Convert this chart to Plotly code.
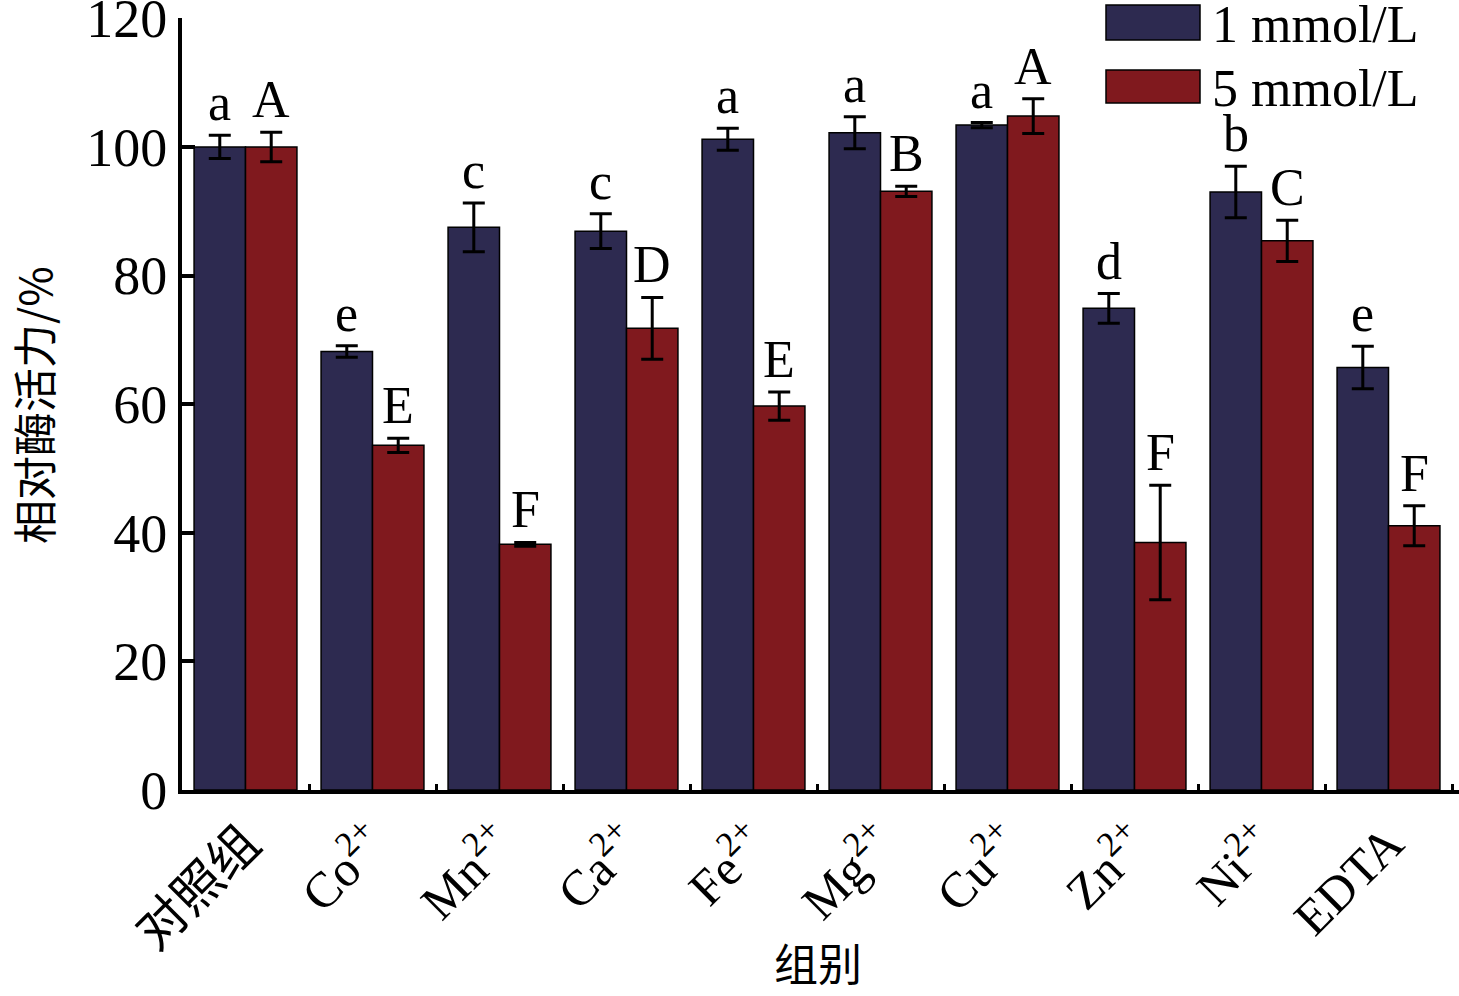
import plotly.graph_objects as go

categories = ["对照组", "Co<sup>2+</sup>", "Mn<sup>2+</sup>", "Ca<sup>2+</sup>", "Fe<sup>2+</sup>",
              "Mg<sup>2+</sup>", "Cu<sup>2+</sup>", "Zn<sup>2+</sup>", "Ni<sup>2+</sup>", "EDTA"]
series_names = ["1 mmol/L", "5 mmol/L"]
values_1mM = [100.0, 68.2, 87.5, 86.9, 101.2, 102.2, 103.4, 74.9, 93.0, 65.7]
errors_1mM = [1.8, 0.9, 3.8, 2.7, 1.7, 2.5, 0.4, 2.3, 4.0, 3.3]
values_5mM = [100.0, 53.6, 38.2, 71.8, 59.7, 93.1, 104.8, 38.5, 85.4, 41.1]
errors_5mM = [2.3, 1.1, 0.3, 4.8, 2.2, 0.8, 2.7, 8.9, 3.2, 3.1]
letters_1mM = ["a", "e", "c", "c", "a", "a", "a", "d", "b", "e"]
letters_5mM = ["A", "E", "F", "D", "E", "B", "A", "F", "C", "F"]
y_ticks = [0, 20, 40, 60, 80, 100, 120]
y_title = "相对酶活力/%"
x_title = "组别"

BLUE = "rgb(45,42,80)"
RED = "rgb(128,25,30)"
FONT = "Liberation Serif, Times New Roman, Noto Sans CJK SC, serif"
CJK = "Noto Sans CJK SC"

W, H = 1459, 996
# target plot area in window pixels: x 182..1459, y 18..790
L, R, T, B = 182, 0, 18, 996 - 790
PW, PH = W - L - R, H - T - B


def px_x(p):
    return (p - L) / PW


def px_y(p):
    return (H - B - p) / PH


fig = go.Figure()
for name, vals, errs, col in [(series_names[0], values_1mM, errors_1mM, BLUE),
                              (series_names[1], values_5mM, errors_5mM, RED)]:
    fig.add_trace(go.Bar(
        x=categories, y=vals, name=name,
        marker=dict(color=col, line=dict(color="black", width=1.5)),
        error_y=dict(type="data", array=errs, visible=True, color="black",
                     thickness=3, width=11),
        showlegend=False,
    ))

# significance letters
slot_px = PW / 10.055
bar_px = slot_px * (1 - 0.19) / 2
for vals, errs, lets, sh in [(values_1mM, errors_1mM, letters_1mM, -bar_px / 2),
                             (values_5mM, errors_5mM, letters_5mM, bar_px / 2)]:
    for c, v, e, t in zip(categories, vals, errs, lets):
        fig.add_annotation(x=c, y=v + e, text=t, showarrow=False, xref="x", yref="y",
                           xshift=sh, yshift=2, yanchor="bottom",
                           font=dict(family=FONT, size=52, color="black"))

# legend (manual, to match large swatches)
for (y0, y1, col, txt) in [(5, 40, BLUE, series_names[0]), (70, 103, RED, series_names[1])]:
    fig.add_shape(type="rect", xref="paper", yref="paper",
                  x0=px_x(1106), x1=px_x(1200), y0=px_y(y1), y1=px_y(y0),
                  fillcolor=col, line=dict(color="black", width=1.5))
    fig.add_annotation(xref="paper", yref="paper", x=px_x(1210), y=px_y((y0 + y1) / 2 + 2),
                       xanchor="left", yanchor="middle", text=txt, showarrow=False,
                       font=dict(family=FONT, size=52, color="black"))

# axis titles
fig.add_annotation(xref="paper", yref="paper", x=px_x(33), y=px_y(405), text=y_title,
                   textangle=-90, showarrow=False, xanchor="center", yanchor="middle",
                   font=dict(family=CJK, size=44, color="black"))
fig.add_annotation(xref="paper", yref="paper", x=px_x(818), y=px_y(962), text=x_title,
                   showarrow=False, xanchor="center", yanchor="middle",
                   font=dict(family=CJK, size=44, color="black"))

fig.update_layout(
    width=W, height=H,
    margin=dict(l=L, r=R, t=T, b=B),
    paper_bgcolor="white", plot_bgcolor="white",
    barmode="group", bargap=0.19, bargroupgap=0,
    font=dict(family=FONT, color="black"),
)
fig.update_xaxes(
    range=[-0.5, 9.555], showline=True, linecolor="black", linewidth=4,
    ticks="inside", tickson="boundaries", ticklen=6, tickwidth=3, tickcolor="black",
    tickangle=-45, tickfont=dict(family=FONT, size=50, color="black"),
    showgrid=False, zeroline=False, automargin=False,
)
fig.update_yaxes(
    range=[0, 120.05], tickvals=y_ticks, showline=True, ticklabeloverflow="allow",
    linecolor="black", linewidth=4, ticks="inside", ticklen=13, tickwidth=4,
    tickcolor="black", tickfont=dict(family=FONT, size=54, color="black"),
    showgrid=False, zeroline=False, automargin=False,
)

fig.write_html("out.html", config={"displayModeBar": False},
               post_script="document.body.style.margin='0px';")
